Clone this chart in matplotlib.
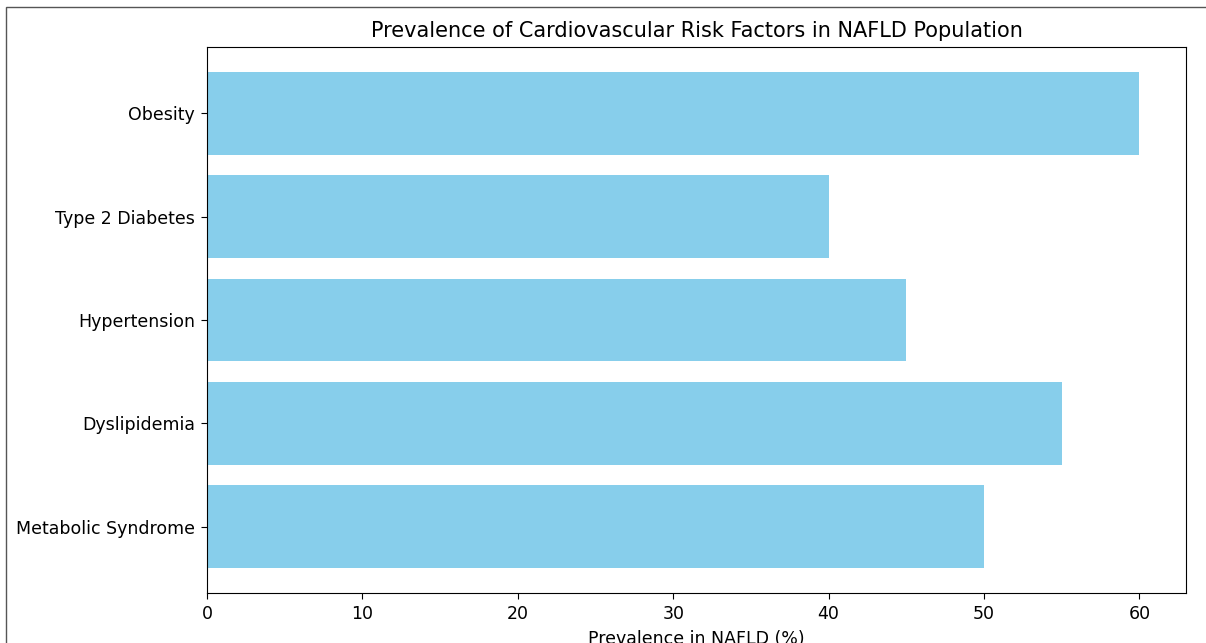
import matplotlib.pyplot as plt
from matplotlib.patches import Rectangle

factors = ["Metabolic Syndrome", "Dyslipidemia", "Hypertension", "Type 2 Diabetes", "Obesity"]
prevalence = [50, 55, 45, 40, 60]

s = 1.25  # source looks rendered at ~125 dpi, scaled down
plt.rcParams.update({
    "font.size": 10 * s,
    "xtick.major.size": 3.5 * s,
    "ytick.major.size": 3.5 * s,
    "xtick.major.pad": 3.5 * s,
    "ytick.major.pad": 3.5 * s,
    "axes.titlepad": 6 * s,
    "axes.labelpad": 4 * s,
})

fig = plt.figure(figsize=(12.06, 6.43), dpi=100)
ax = fig.add_axes([207 / 1206, 1 - 593 / 643, (1186 - 207) / 1206, (593 - 47) / 643])

ax.barh(factors, prevalence, color="skyblue")
ax.set_title("Prevalence of Cardiovascular Risk Factors in NAFLD Population", fontsize=12 * s)
ax.set_xlabel("Prevalence in NAFLD (%)")

# screenshot frame around the (cropped) figure
fig.patches.append(Rectangle((6 / 1206, -0.1), 1.1, 1.1 - 7 / 643,
                             transform=fig.transFigure, fill=False,
                             edgecolor="#555555", linewidth=1.0))

fig.savefig("out.png", dpi=100)
